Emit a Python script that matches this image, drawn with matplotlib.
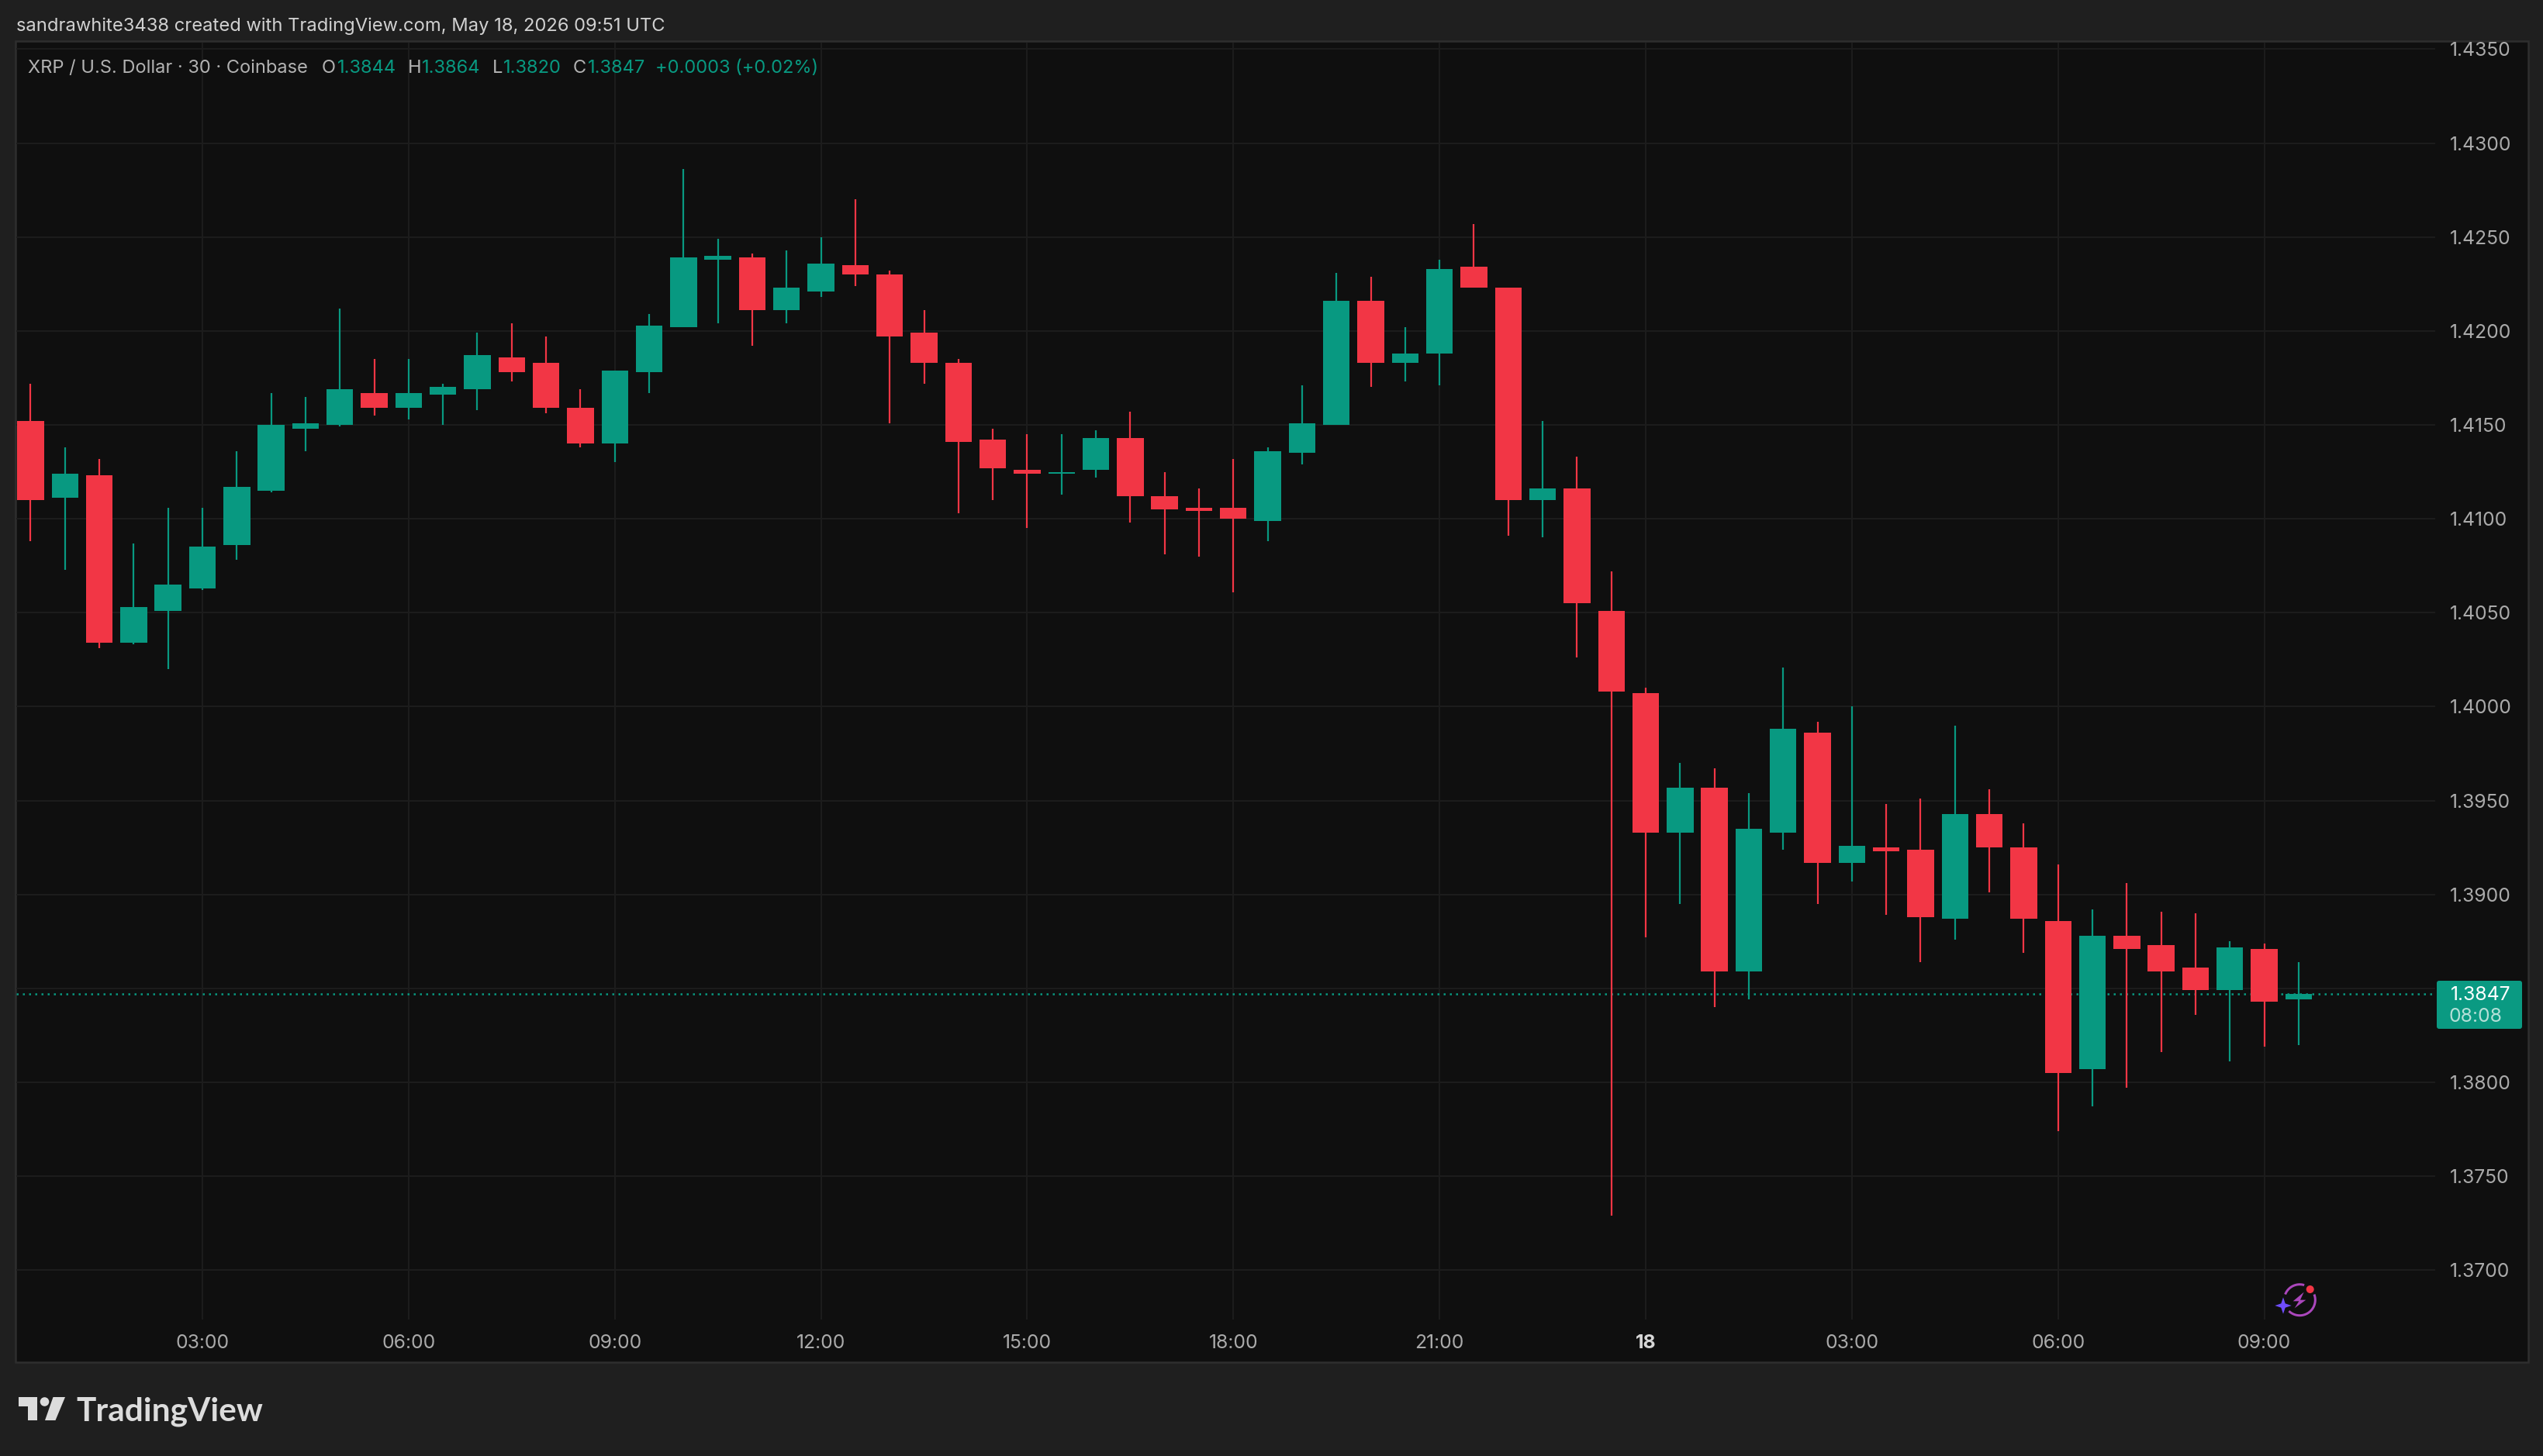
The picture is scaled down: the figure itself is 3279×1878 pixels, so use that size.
import matplotlib

matplotlib.use("Agg")
import matplotlib.pyplot as plt
import numpy as np
from matplotlib.patches import Circle, FancyBboxPatch, Polygon, Rectangle

plt.rcParams["font.family"] = ["Inter", "DejaVu Sans"]

opens = [1.4152, 1.4111, 1.4123, 1.4034, 1.4051, 1.4063, 1.4086, 1.4115, 1.4148, 1.4150,
         1.4167, 1.4159, 1.4166, 1.4169, 1.4186, 1.4183, 1.4159, 1.4140, 1.4178, 1.4202,
         1.4238, 1.4239, 1.4211, 1.4221, 1.4235, 1.4230, 1.4199, 1.4183, 1.4142, 1.4126,
         1.4124, 1.4126, 1.4143, 1.4112, 1.4106, 1.4106, 1.4099, 1.4135, 1.4150, 1.4216,
         1.4183, 1.4188, 1.4234, 1.4223, 1.4110, 1.4116, 1.4051, 1.4007, 1.3933, 1.3957,
         1.3859, 1.3933, 1.3986, 1.3917, 1.3925, 1.3924, 1.3887, 1.3943, 1.3925, 1.3886,
         1.3807, 1.3878, 1.3873, 1.3861, 1.3849, 1.3871, 1.3844]
closes = [1.4110, 1.4124, 1.4034, 1.4053, 1.4065, 1.4085, 1.4117, 1.4150, 1.4151, 1.4169,
          1.4159, 1.4167, 1.4170, 1.4187, 1.4178, 1.4159, 1.4140, 1.4179, 1.4203, 1.4239,
          1.4240, 1.4211, 1.4223, 1.4236, 1.4230, 1.4197, 1.4183, 1.4141, 1.4127, 1.4124,
          1.4125, 1.4143, 1.4112, 1.4105, 1.4104, 1.4100, 1.4136, 1.4151, 1.4216, 1.4183,
          1.4188, 1.4233, 1.4223, 1.4110, 1.4116, 1.4055, 1.4008, 1.3933, 1.3957, 1.3859,
          1.3935, 1.3988, 1.3917, 1.3926, 1.3923, 1.3888, 1.3943, 1.3925, 1.3887, 1.3805,
          1.3878, 1.3871, 1.3859, 1.3849, 1.3872, 1.3843, 1.3847]
highs = [1.4172, 1.4138, 1.4132, 1.4087, 1.4106, 1.4106, 1.4136, 1.4167, 1.4165, 1.4212,
         1.4185, 1.4185, 1.4172, 1.4199, 1.4204, 1.4197, 1.4169, 1.4179, 1.4209, 1.4286,
         1.4249, 1.4241, 1.4243, 1.4250, 1.4270, 1.4232, 1.4211, 1.4185, 1.4148, 1.4145,
         1.4145, 1.4147, 1.4157, 1.4125, 1.4116, 1.4132, 1.4138, 1.4171, 1.4231, 1.4229,
         1.4202, 1.4238, 1.4257, 1.4223, 1.4152, 1.4133, 1.4072, 1.4010, 1.3970, 1.3967,
         1.3954, 1.4021, 1.3992, 1.4000, 1.3948, 1.3951, 1.3990, 1.3956, 1.3938, 1.3916,
         1.3892, 1.3906, 1.3891, 1.3890, 1.3875, 1.3874, 1.3864]
lows = [1.4088, 1.4073, 1.4031, 1.4033, 1.4020, 1.4062, 1.4078, 1.4114, 1.4136, 1.4149,
        1.4155, 1.4153, 1.4150, 1.4158, 1.4173, 1.4156, 1.4138, 1.4130, 1.4167, 1.4202,
        1.4204, 1.4192, 1.4204, 1.4218, 1.4224, 1.4151, 1.4172, 1.4103, 1.4110, 1.4095,
        1.4113, 1.4122, 1.4098, 1.4081, 1.4080, 1.4061, 1.4088, 1.4129, 1.4150, 1.4170,
        1.4173, 1.4171, 1.4223, 1.4091, 1.4090, 1.4026, 1.3729, 1.3877, 1.3895, 1.3840,
        1.3844, 1.3924, 1.3895, 1.3907, 1.3889, 1.3864, 1.3876, 1.3901, 1.3869, 1.3774,
        1.3787, 1.3797, 1.3816, 1.3836, 1.3811, 1.3819, 1.3820]

price_ticks = [1.37, 1.375, 1.38, 1.385, 1.39, 1.395, 1.40, 1.405, 1.41, 1.415, 1.42, 1.425, 1.43, 1.435]
time_ticks = [6, 12, 18, 24, 30, 36, 42, 48, 54, 60, 66]
time_labels = ["03:00", "06:00", "09:00", "12:00", "15:00", "18:00", "21:00", "18", "03:00", "06:00", "09:00"]
last_price = 1.3847

UP = "#089981"
DOWN = "#f23645"
W, H = 3280, 1878


def px_pt(n):
    return n * 72 / 100


def y_to_price(y):
    return 1.38 + (1396 - y) / 121.15 * 0.005


def x_to_idx(x):
    return 6 + (x - 261) / 44.31


fig = plt.figure(figsize=(W / 100, H / 100), facecolor="#1f1f1f")

back = fig.add_axes([0, 0, 1, 1], zorder=0)
back.set_xlim(0, W)
back.set_ylim(H, 0)
back.axis("off")
back.add_patch(Rectangle((20, 53), 3240, 1704, fc="#0f0f0f", ec="#2e2e2e", lw=px_pt(2.5)))

ax = fig.add_axes([21 / W, (H - 1702) / H, 3119 / W, 1647 / H], zorder=1)
ax.patch.set_alpha(0)
ax.set_xlim(x_to_idx(21), x_to_idx(3140))
ax.set_ylim(y_to_price(1702), y_to_price(55))
for s in ax.spines.values():
    s.set_visible(False)

ax.set_axisbelow(True)
ax.yaxis.tick_right()
ax.set_yticks(price_ticks)
ax.set_yticklabels(["" if p == 1.385 else f"{p:.4f}" for p in price_ticks])
ax.set_xticks(time_ticks)
ax.set_xticklabels(time_labels)
ax.tick_params(axis="both", length=0, labelsize=17.8, labelcolor="#aaaaaa")
ax.tick_params(axis="y", pad=px_pt(19))
ax.tick_params(axis="x", pad=px_pt(19))
for lab in ax.get_xticklabels():
    if lab.get_text() == "18":
        lab.set_fontweight("bold")
        lab.set_color("#d6d6d6")
ax.grid(True, color="#1c1c1c", lw=px_pt(2))

ax.axhline(last_price, color=UP, lw=px_pt(2.5), ls=(0, (1, 2.2)), zorder=1.5)

idx = np.arange(1, len(opens) + 1)
o = np.array(opens)
c = np.array(closes)
colors = [UP if b >= a else DOWN for a, b in zip(opens, closes)]
ax.vlines(idx, lows, highs, colors=colors, lw=px_pt(2.2), zorder=2)
ax.bar(idx, np.abs(c - o), bottom=np.minimum(o, c), width=0.776, color=colors, lw=0, zorder=3)

top = fig.add_axes([0, 0, 1, 1], zorder=2)
top.set_xlim(0, W)
top.set_ylim(H, 0)
top.axis("off")

# header and ohlc legend
top.text(21, 34, "sandrawhite3438 created with TradingView.com, May 18, 2026 09:51 UTC",
         color="#d1d1d1", fontsize=17.1, va="center")
legend_items = [
    (36, "XRP / U.S. Dollar · 30 · Coinbase", "#b2b2b2"),
    (415, "O", "#b2b2b2"), (435, "1.3844", UP),
    (526, "H", "#b2b2b2"), (544, "1.3864", UP),
    (635, "L", "#b2b2b2"), (649, "1.3820", UP),
    (739, "C", "#b2b2b2"), (758, "1.3847", UP),
    (845, "+0.0003 (+0.02%)", UP),
]
for x, s, col in legend_items:
    top.text(x, 88, s, color=col, fontsize=17.0, va="center")

# last price tag
top.add_patch(FancyBboxPatch((3142, 1265), 110, 62, boxstyle="round,pad=0,rounding_size=3", fc="#0a9a82", ec="none"))
top.text(3160, 1284, f"{last_price:.4f}", color="#ffffff", fontsize=17.8, va="center")
top.text(3158, 1311, "08:08", color="#b5e0d8", fontsize=17.8, va="center")

# logo
LOGO = "#dcdcdc"
top.add_patch(Polygon([(24, 1802), (48.5, 1802), (48.5, 1832), (36, 1832), (36, 1814), (24, 1814)], fc=LOGO, ec="none"))
top.add_patch(Circle((57.5, 1808), 5.8, fc=LOGO, ec="none"))
top.add_patch(Polygon([(68.5, 1802), (84, 1802), (71.5, 1832), (58, 1832)], fc=LOGO, ec="none"))
top.text(98, 1832, "TradingView", color=LOGO, fontsize=30.5, family="Lato", fontweight="bold", va="baseline")

# snapshot badge
ARC = "#ab47bc"
cx, cy, r = 2965.3, 1676.7, 20
for a0, a1 in [(201, 287), (-21, 134)]:
    t = np.radians(np.linspace(a0, a1, 60))
    top.plot(cx + r * np.cos(t), cy + r * np.sin(t), color=ARC, lw=px_pt(3), solid_capstyle="butt")
zap = [(332, 200), (290, 235), (313, 235), (296, 262), (340, 230), (318, 230)]
top.add_patch(Polygon([(2860 + a / 3, 1600 + b / 3) for a, b in zap], fc=ARC, ec="none"))
top.add_patch(Circle((2978.7, 1663), 5, fc=DOWN, ec="none"))
star = [(252, 220), (260, 244), (284, 252), (260, 260), (252, 284), (244, 260), (220, 252), (244, 244)]
top.add_patch(Polygon([(2860 + a / 3, 1600 + b / 3) for a, b in star], fc="#6f4dff", ec="none"))

fig.savefig("out.png", dpi=100)
